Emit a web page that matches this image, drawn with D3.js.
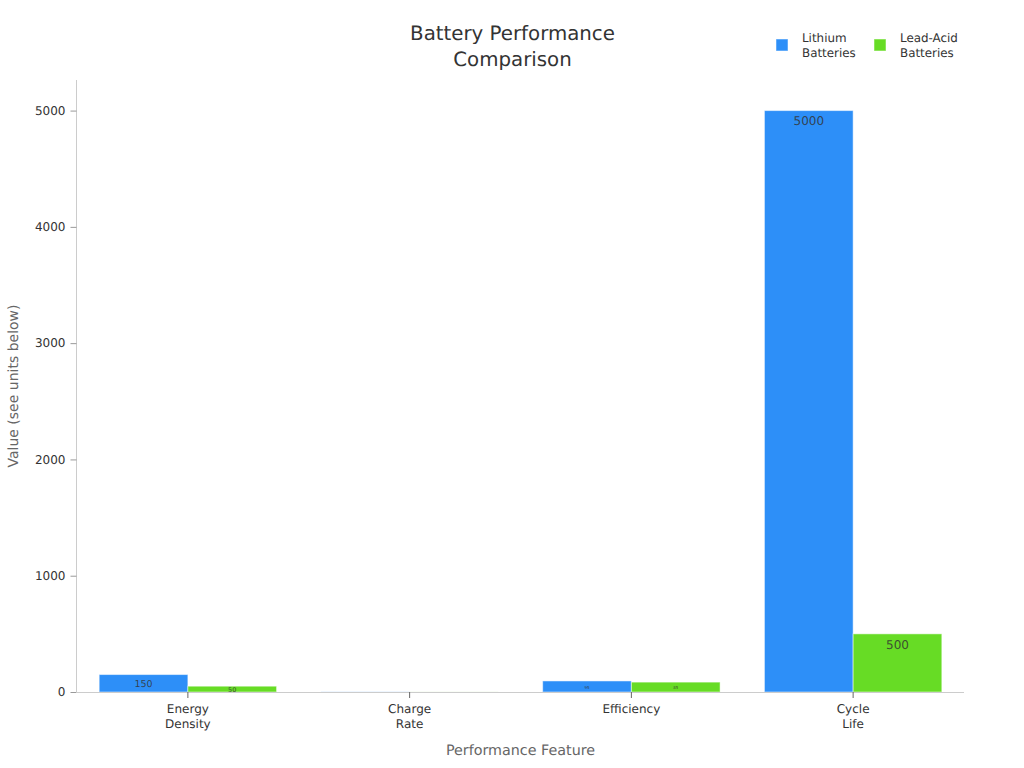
<!DOCTYPE html>
<html>
<head>
<meta charset="utf-8">
<script src="https://cdn.jsdelivr.net/npm/d3@7"></script>
<style>
html, body { margin: 0; padding: 0; background: #fff; }
text { font-family: "DejaVu Sans", sans-serif; text-rendering: geometricPrecision; }
</style>
</head>
<body>
<div id="chart"></div>
<script>
var width = 1024;
var height = 768;

var categories = [['Energy', 'Density'], ['Charge', 'Rate'], ['Efficiency'], ['Cycle', 'Life']];
var seriesNames = [['Lithium', 'Batteries'], ['Lead-Acid', 'Batteries']];
var lithium = [150, 1, 95, 5000];
var leadAcid = [50, 0.5, 85, 500];
var yTicks = [0, 1000, 2000, 3000, 4000, 5000];
var colors = ['#2d8ff8', '#67dc25'];

var margin = { top: 80, right: 60.5, bottom: 76, left: 76.5 };
var chartWidth = width - margin.left - margin.right;
var chartHeight = height - margin.top - margin.bottom;

var svg = d3.select('#chart').append('svg')
    .attr('width', width)
    .attr('height', height)
    .style('display', 'block');

var g = svg.append('g')
    .attr('transform', `translate(${margin.left}, ${margin.top})`);

var xScale = d3.scaleBand()
    .domain(d3.range(categories.length))
    .range([0.5, chartWidth + 0.5])
    .paddingInner(0.2)
    .paddingOuter(0.1);

var xInner = d3.scaleBand()
    .domain([0, 1])
    .range([0, xScale.bandwidth()]);

var yScale = d3.scaleLinear()
    .domain([0, 5263])
    .range([chartHeight, 0]);

// the value labels do not follow the bar size, sizes
var labelSizes = [[9.5, 0, 4, 12], [6.5, 0, 4, 12]];

// bars, one group per series
[lithium, leadAcid].forEach(function (values, s) {
    var barGroup = g.append('g');

    barGroup.selectAll('rect')
        .data(values)
        .enter()
        .append('rect')
        .attr('x', (d, i) => xScale(i) + xInner(s))
        .attr('y', d => yScale(d))
        .attr('width', xInner.bandwidth())
        .attr('height', d => chartHeight - yScale(d))
        .attr('fill', colors[s])
        .attr('stroke', '#fff')
        .attr('stroke-opacity', 0.5)
        .attr('stroke-width', 1);

    barGroup.selectAll('text')
        .data(values)
        .enter()
        .append('text')
        .attr('x', (d, i) => xScale(i) + xInner(s) + xInner.bandwidth() / 2)
        .attr('y', d => yScale(d) + Math.min(10.5, (chartHeight - yScale(d)) / 2) + 1)
        .attr('text-anchor', 'middle')
        .attr('dominant-baseline', 'middle')
        .attr('fill', '#333')
        .attr('fill-opacity', 0.85)
        .style('font-size', (d, i) => labelSizes[s][i] + 'px')
        .text((d, i) => labelSizes[s][i] ? d : '');
});

// y axis
var yAxis = g.append('g')
    .call(d3.axisLeft(yScale).tickValues(yTicks).tickSize(6).tickPadding(5).tickFormat(d3.format('d')));
yAxis.select('.domain').attr('stroke', '#ccc').attr('d', `M0,0V${chartHeight}`);
yAxis.selectAll('.tick line').attr('stroke', '#999');
yAxis.selectAll('.tick text').attr('fill', '#333').style('font-size', '12px');

// x axis
var xAxis = g.append('g')
    .attr('transform', `translate(0, ${chartHeight})`)
    .call(d3.axisBottom(xScale).offset(0).tickSize(6).tickFormat(''));
xAxis.select('.domain').attr('stroke', '#ccc').attr('d', `M0,0.5H${chartWidth + 0.5}`);
xAxis.selectAll('.tick line').attr('stroke', '#666');

categories.forEach(function (lines, i) {
    var label = g.append('text')
        .attr('text-anchor', 'middle')
        .attr('fill', '#333')
        .style('font-size', '12px');
    lines.forEach(function (line, k) {
        label.append('tspan')
            .attr('x', xScale(i) + xScale.bandwidth() / 2)
            .attr('y', chartHeight + 21 + k * 15)
            .text(line);
    });
});

// axis titles
svg.append('text')
    .attr('x', 520.5)
    .attr('y', 755)
    .attr('text-anchor', 'middle')
    .attr('fill', '#666')
    .style('font-size', '14.3px')
    .text('Performance Feature');

svg.append('text')
    .attr('transform', 'translate(18, 386) rotate(-90)')
    .attr('text-anchor', 'middle')
    .attr('fill', '#666')
    .style('font-size', '14px')
    .text('Value (see units below)');

// title
svg.append('text')
    .attr('x', 512.5)
    .attr('y', 40)
    .attr('text-anchor', 'middle')
    .attr('fill', '#333')
    .style('font-size', '19.8px')
    .text('Battery Performance');
svg.append('text')
    .attr('x', 512.5)
    .attr('y', 66)
    .attr('text-anchor', 'middle')
    .attr('fill', '#333')
    .style('font-size', '19.8px')
    .text('Comparison');

// legend
var legendX = [776, 874];
seriesNames.forEach(function (lines, s) {
    var item = svg.append('g')
        .attr('transform', `translate(${legendX[s]}, 39)`);
    item.append('rect')
        .attr('width', 12)
        .attr('height', 12)
        .attr('fill', colors[s])
        .attr('stroke', '#fff')
        .attr('stroke-opacity', 0.5);
    lines.forEach(function (line, k) {
        item.append('text')
            .attr('x', 26)
            .attr('y', 3 + k * 15)
            .attr('fill', '#333')
            .style('font-size', '11.9px')
            .text(line);
    });
});
</script>
</body>
</html>
